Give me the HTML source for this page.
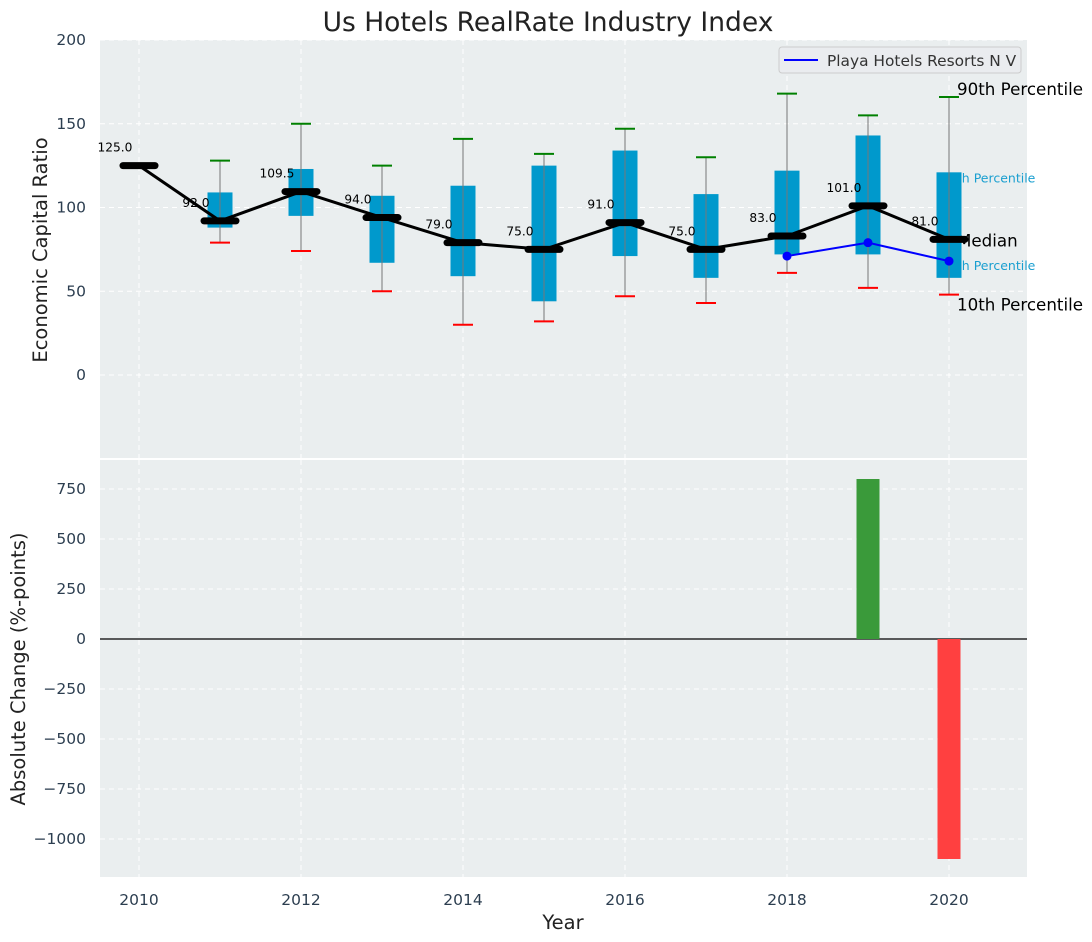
<!DOCTYPE html>
<html><head><meta charset="utf-8"><style>
body{margin:0;background:#fff;}
svg{display:block;font-family:"DejaVu Sans","Liberation Sans",sans-serif;}
</style></head><body>
<svg id="c" width="1092" height="942"></svg>
<script>
const years=[2010,2011,2012,2013,2014,2015,2016,2017,2018,2019,2020];
const medians=[125,92,109.5,94,79,75,91,75,83,101,81];
const q1=[null,88,95,67,59,44,71,58,72,72,58];
const q3=[null,109,123,107,113,125,134,108,122,143,121];
const p10=[null,79,74,50,30,32,47,43,61,52,48];
const p90=[null,128,150,125,141,132,147,130,168,155,166];
const playaYears=[2018,2019,2020];
const playaVals=[71,79,68];
const changeYears=[2019,2020];
const changeVals=[800,-1100];
const yTicksTop=[0,50,100,150,200];
const yTicksBot=[-1000,-750,-500,-250,0,250,500,750];
const xTicks=[2010,2012,2014,2016,2018,2020];

const NS="http://www.w3.org/2000/svg";
const svg=document.getElementById('c');
function mk(tag,attrs,parent,text){const e=document.createElementNS(NS,tag);for(const k in attrs)e.setAttribute(k,attrs[k]);if(text!==undefined)e.textContent=text;(parent||svg).appendChild(e);return e;}
const L=100,R=1027,T1=40,B1=458,T2=460,B2=877;
const X=v=>139+(v-2010)*81;
const Y1=v=>375-v*1.675;
const Y2=v=>639-v*0.2;

let e;
e=mk('rect',{x:L,y:T1,width:R-L,height:B1-T1,fill:'#eaeeef'});

e=mk('rect',{x:L,y:T2,width:R-L,height:B2-T2,fill:'#eaeeef'});


const grid={stroke:'#fff','stroke-width':1,'stroke-dasharray':'5,4'};
xTicks.forEach(t=>{mk('line',Object.assign({x1:X(t),x2:X(t),y1:T1,y2:B1},grid));mk('line',Object.assign({x1:X(t),x2:X(t),y1:T2,y2:B2},grid));});
yTicksTop.forEach(t=>{mk('line',Object.assign({x1:L,x2:R,y1:Y1(t),y2:Y1(t)},grid));
 e=mk('text',{x:L-14,y:Y1(t)+5,'text-anchor':'end','font-size':15.5,fill:'#2c3e50'},null,t);
 });
yTicksBot.forEach(t=>{mk('line',Object.assign({x1:L,x2:R,y1:Y2(t),y2:Y2(t)},grid));
 e=mk('text',{x:L-14,y:Y2(t)+5,'text-anchor':'end','font-size':15.5,fill:'#2c3e50'},null,t<0?'\u2212'+(-t):t);
 });
xTicks.forEach(t=>{e=mk('text',{x:X(t),y:905,'text-anchor':'middle','font-size':15.5,fill:'#2c3e50'},null,t);
 });

const ax=X(2020)+8;
[['90th Percentile',Y1(p90[10])-2,16.7,'#000'],['75th Percentile',Y1(q3[10])+10,12.5,'#1a9fd0'],['Median',Y1(medians[10])+7,16.7,'#000'],['25th Percentile',Y1(q1[10])-8,12.5,'#1a9fd0'],['10th Percentile',Y1(p10[10])+16,16.7,'#000']].forEach((a,i)=>{
 e=mk('text',{x:ax-(i%2?16:0),y:a[1],'font-size':a[2],fill:a[3]},null,a[0]);
 });

years.forEach((yr,i)=>{
 if(q1[i]==null)return;
 const x=X(yr);
 e=mk('rect',{x:x-12.5,y:Y1(q3[i]),width:25,height:Y1(q1[i])-Y1(q3[i]),fill:'#0099cc'});
 
 mk('line',{x1:x,x2:x,y1:Y1(p90[i]),y2:Y1(p10[i]),stroke:'#777','stroke-width':1});
 e=mk('line',{x1:x-10,x2:x+10,y1:Y1(p90[i]),y2:Y1(p90[i]),stroke:'green','stroke-width':2});
 
 e=mk('line',{x1:x-10,x2:x+10,y1:Y1(p10[i]),y2:Y1(p10[i]),stroke:'red','stroke-width':2});
 
});
e=mk('polyline',{points:years.map((y,i)=>X(y)+','+Y1(medians[i])).join(' '),fill:'none',stroke:'#000','stroke-width':3});

years.forEach((yr,i)=>{
 const x=X(yr),y=Y1(medians[i]);
 e=mk('line',{x1:x-16,x2:x+16,y1:y,y2:y,stroke:'#000','stroke-width':7,'stroke-linecap':'round'});
 
 e=mk('text',{x:x-24,y:y-14,'text-anchor':'middle','font-size':12.2,fill:'#000'},null,medians[i].toFixed(1));
 
});
e=mk('polyline',{points:playaYears.map((y,i)=>X(y)+','+Y1(playaVals[i])).join(' '),fill:'none',stroke:'#0000ff','stroke-width':2});

playaYears.forEach((y,i)=>{e=mk('circle',{cx:X(y),cy:Y1(playaVals[i]),r:4.5,fill:'#0000ff'});
 });

e=mk('rect',{x:779,y:47,width:242,height:26,rx:3,fill:'#eaecef',stroke:'#ccc'});

mk('line',{x1:784,x2:818,y1:60,y2:60,stroke:'#0000ff','stroke-width':2});
e=mk('text',{x:827,y:66,'font-size':15.4,fill:'#333'},null,'Playa Hotels Resorts N V');


mk('line',{x1:L,x2:R,y1:Y2(0),y2:Y2(0),stroke:'#000','stroke-width':1.2});
changeYears.forEach((yr,i)=>{const v=changeVals[i];
 e=mk('rect',{x:X(yr)-11.5,y:Math.min(Y2(0),Y2(v)),width:23,height:Math.abs(Y2(v)-Y2(0)),fill:v>=0?'#3a9a3a':'#ff4040'});
 });

e=mk('text',{x:548,y:31,'text-anchor':'middle','font-size':26.5,fill:'#222'},null,'Us Hotels RealRate Industry Index');

e=mk('text',{x:47,y:250,'text-anchor':'middle','font-size':19.5,fill:'#222',transform:'rotate(-90 47 250)'},null,'Economic Capital Ratio');

e=mk('text',{x:25,y:669,'text-anchor':'middle','font-size':19.5,fill:'#222',transform:'rotate(-90 25 669)'},null,'Absolute Change (%-points)');

e=mk('text',{x:563,y:929,'text-anchor':'middle','font-size':19.5,fill:'#222'},null,'Year');

</script>
</body></html>
